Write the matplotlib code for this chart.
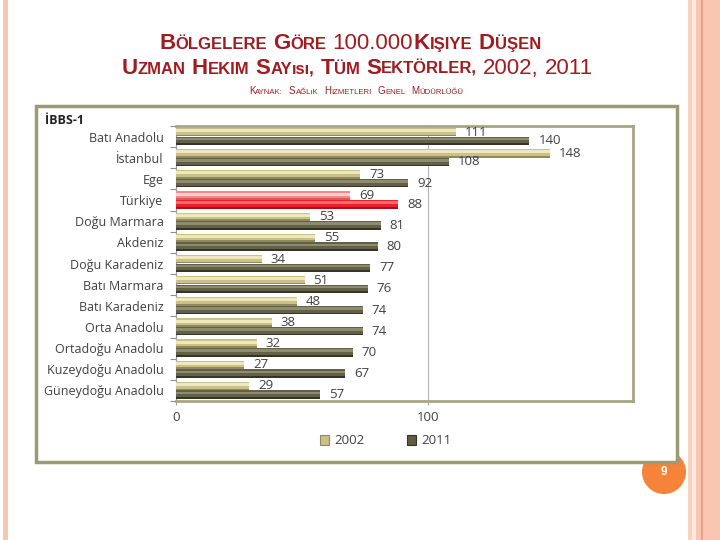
import matplotlib
matplotlib.use('Agg')
import matplotlib.pyplot as plt
from matplotlib.patches import Rectangle, Circle, Patch

# ---------------- data ----------------
categories = ['Batı Anadolu', 'İstanbul', 'Ege', 'Türkiye', 'Doğu Marmara', 'Akdeniz',
              'Doğu Karadeniz', 'Batı Marmara', 'Batı Karadeniz', 'Orta Anadolu',
              'Ortadoğu Anadolu', 'Kuzeydoğu Anadolu', 'Güneydoğu Anadolu']
v2002 = [111, 148, 73, 69, 53, 55, 34, 51, 48, 38, 32, 27, 29]
v2011 = [140, 108, 92, 88, 81, 80, 77, 76, 74, 74, 70, 67, 57]
highlight = 'Türkiye'
series_names = ['2002', '2011']
x_ticks = [0, 100]
x_max = 181
chart_label = 'İBBS-1'
page_no = '9'

W, H = 720, 540
fig = plt.figure(figsize=(7.2, 5.4), dpi=100)
fig.patch.set_facecolor('white')

# background axes in pixel coordinates (y down)
bg = fig.add_axes([0, 0, 1, 1])
bg.set_xlim(0, W)
bg.set_ylim(H, 0)
bg.axis('off')

# side stripes
bg.add_patch(Rectangle((3, 0), 5, H, facecolor='#f9c6b4', lw=0))
for x0, w, c in [(688, 4, '#fbd0c0'), (692, 4, '#fde8e0'), (696, 5, '#f9c6b4'),
                 (701, 2, '#e8a088'), (703, 17, '#f9c6b4')]:
    bg.add_patch(Rectangle((x0, 0), w, H, facecolor=c, lw=0))

# page number circle
bg.add_patch(Circle((664, 472), 22, facecolor='#f5843a', lw=0, zorder=1))
bg.text(664, 472, page_no, color='white', fontsize=8.5, fontweight='bold',
        ha='center', va='center', family='Liberation Sans', zorder=1)

# chart frame
bg.add_patch(Rectangle((36, 106), 641, 356, facecolor='white', edgecolor='#9c9a74',
                       lw=2.5, zorder=2))
bg.text(45, 121, chart_label, fontsize=9, fontweight='bold', color='#222222',
        family='Open Sans', va='center', ha='left', zorder=3)

# ---------------- title (small caps) ----------------
TITLE_C = '#a01c20'
renderer = fig.canvas.get_renderer()


def sc_line(words, gaps, xc, ybase, styles):
    items = []
    for word in words:
        segs = []
        for s, st in word:
            size, weight = styles[st]
            t = fig.text(0, 1 - ybase / H, s, fontsize=size, fontweight=weight,
                         color=TITLE_C, family='Liberation Sans', ha='left', va='baseline')
            segs.append(t)
        items.append(segs)
    widths = [[t.get_window_extent(renderer).width for t in segs] for segs in items]
    total = sum(sum(w) for w in widths) + sum(gaps)
    x = xc - total / 2
    for i, segs in enumerate(items):
        for t, w in zip(segs, widths[i]):
            t.set_x(x / W)
            x += w
        if i < len(gaps):
            x += gaps[i]


big = {'L': (16, 'bold'), 'S': (12, 'bold'), 'N': (16, 'normal')}
sp = 6
line1 = [[('B', 'L'), ('ÖLGELERE', 'S')], [('G', 'L'), ('ÖRE', 'S')], [('100.000', 'N')],
         [('K', 'L'), ('IŞIYE', 'S')], [('D', 'L'), ('ÜŞEN', 'S')]]
sc_line(line1, [sp, sp, 1, sp], 350, 49, big)
line2 = [[('U', 'L'), ('ZMAN', 'S')], [('H', 'L'), ('EKIM', 'S')],
         [('S', 'L'), ('AY', 'S'), ('ısı,', 'S')], [('T', 'L'), ('ÜM', 'S')],
         [('S', 'L'), ('EKTÖRLER,', 'S')], [('2002,', 'N')], [('2011', 'N')]]
sc_line(line2, [sp] * 6, 357, 74, big)
small = {'L': (7, 'normal'), 'S': (5.6, 'normal')}
line3 = [[('K', 'L'), ('AYNAK:', 'S')], [('S', 'L'), ('AĞLıK', 'S')],
         [('H', 'L'), ('IZMETLERI', 'S')], [('G', 'L'), ('ENEL', 'S')],
         [('M', 'L'), ('ÜDÜRLÜĞÜ', 'S')]]
sc_line(line3, [6] * 4, 356, 94, small)

# ---------------- plot ----------------
ax = fig.add_axes([176 / W, 1 - 401 / H, (633 - 176) / W, (401 - 126) / H])
ax.set_zorder(3)
ax.patch.set_alpha(0)
n = len(categories)
ys = list(range(n))
ax.set_ylim(n - 0.5, -0.5)
ax.set_xlim(0, x_max)

bh = 0.40
off1, off2 = -0.21, 0.20

light_sh = [(0, 1, '#8f8a5e'), (0, 0.8, '#c9c08a'), (0.15, 0.5, '#eee8bf')]
dark_sh = [(0, 1, '#363423'), (0, 0.8, '#626046'), (0.15, 0.45, '#8e8c70')]
red1_sh = [(0, 1, '#d85a5a'), (0, 0.8, '#f28a8a'), (0.15, 0.5, '#fdd0d0')]
red2_sh = [(0, 1, '#a8101a'), (0, 0.8, '#e8212b'), (0.15, 0.45, '#f76a6a')]


def cyl(centers, widths, shade_lists):
    for k in range(3):
        cs, hs, cols = [], [], []
        for c, sh in zip(centers, shade_lists):
            a, b, col = sh[k]
            cs.append(c - bh / 2 + bh * (a + b) / 2)
            hs.append(bh * (b - a))
            cols.append(col)
        ax.barh(cs, widths, height=hs, color=cols, lw=0, zorder=3 + k)


is_hl = [c == highlight for c in categories]
cyl([y + off1 for y in ys], v2002, [red1_sh if h else light_sh for h in is_hl])
cyl([y + off2 for y in ys], v2011, [red2_sh if h else dark_sh for h in is_hl])

lab_kw = dict(fontsize=9.5, color='#404040', family='Open Sans', va='center', ha='left', zorder=7)
for y, v in zip(ys, v2002):
    ax.text(v + 3.5, y + off1, str(v), **lab_kw)
for y, v in zip(ys, v2011):
    ax.text(v + 3.5, y + off2, str(v), **lab_kw)

ax.set_yticks(ys)
ax.set_yticklabels(categories, fontsize=9, color='#404040', family='Open Sans')
ax.tick_params(axis='y', which='major', length=0, pad=9)
ax.set_yticks([y - 0.5 for y in ys] + [n - 0.5], minor=True)
ax.tick_params(axis='y', which='minor', length=4, color='#909090', width=0.8)

ax.set_xticks(x_ticks)
ax.set_xticklabels([str(t) for t in x_ticks], fontsize=9.5, color='#404040', family='Open Sans')
ax.tick_params(axis='x', length=3, color='#a0a0a0', pad=4)
ax.grid(axis='x', color='#b5b5b5', lw=0.8, zorder=0)
ax.set_axisbelow(True)

for s in ['top', 'right', 'bottom']:
    ax.spines[s].set_color('#a8a582')
    ax.spines[s].set_linewidth(2)
ax.spines['left'].set_color('#a0a0a0')
ax.spines['left'].set_linewidth(0.8)

handles = [Patch(facecolor='#c9c08a', edgecolor='#8f8a5e', lw=0.8),
           Patch(facecolor='#5e5c42', edgecolor='#363423', lw=0.8)]
leg = fig.legend(handles, series_names, loc='center', bbox_to_anchor=(386 / W, 1 - 441 / H),
                 ncol=2, frameon=False, handlelength=0.7, handleheight=0.7,
                 columnspacing=3.2, handletextpad=0.4,
                 prop={'family': 'Open Sans', 'size': 9.5})
for t in leg.get_texts():
    t.set_color('#404040')

fig.savefig('out.png', dpi=100)
